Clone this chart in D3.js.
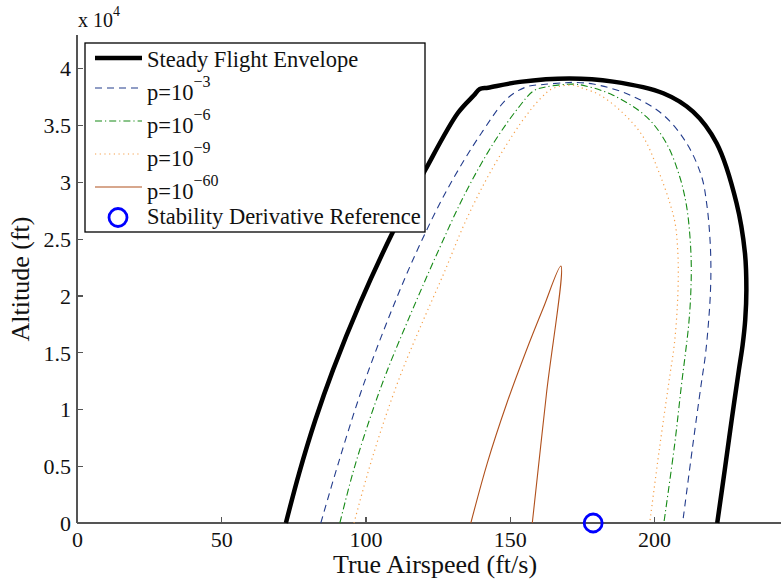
<!DOCTYPE html>
<html lang="en">
<head>
<meta charset="UTF-8">
<script src="https://cdn.jsdelivr.net/npm/d3@7"></script>
<style>
    body { margin: 0; background: #fff; }
    svg { display: block; font-family: "Liberation Serif", "Times New Roman", serif; }
    .axis path, .axis line { stroke: #555; stroke-width: 1.2px; shape-rendering: crispEdges; }
    .axis text { font-family: "Liberation Serif", serif; font-size: 22px; fill: #111; }
    .label { font-size: 26px; fill: #111; }
</style>
</head>
<body>
<svg width="782" height="582"></svg>
<script>
// ---- data (speed in ft/s, altitude in ft) ----
var envSpeed = [72.4, 77.0, 82.6, 88.7, 98.1, 109.3, 120.7, 132.0, 137.5, 139.6, 142.5, 153.5, 170.8, 185.8, 203.2, 213.5, 221.7, 228.6, 231.5, 232.0, 231.6, 230.7, 229.4, 226.9, 224.5, 221.9];
var envAlt   = [0, 4390, 9050, 13440, 19330, 25490, 31030, 36040, 37580, 38150, 38270, 38780, 39080, 38800, 37780, 36160, 33380, 28110, 23740, 20480, 17850, 15650, 13450, 9050, 4660, 0];

var p3Speed = [84.5, 90.6, 98.3, 107.3, 117.5, 128.6, 140.2, 149.3, 155.8, 161.6, 168.5, 172.0, 178.9, 191.6, 203.2, 211.3, 216.5, 218.3, 219.3, 219.7, 219.5, 218.8, 217.8, 216.3, 213.3, 209.9];
var p3Alt   = [0, 5270, 11430, 17580, 23740, 29450, 34290, 37360, 38340, 38550, 38690, 38730, 38590, 37630, 35870, 33380, 30440, 27960, 25320, 22680, 20040, 17410, 14770, 12130, 6590, 0];

var p6Speed = [91.1, 95.6, 101.0, 107.2, 115.8, 124.9, 134.6, 144.4, 152.9, 158.2, 162.8, 172.0, 176.6, 185.8, 197.4, 204.3, 208.9, 211.2, 212.4, 212.9, 212.7, 212.0, 210.8, 209.5, 207.2, 203.4];
var p6Alt   = [0, 4400, 8790, 13190, 18460, 23740, 29010, 33410, 36480, 37980, 38350, 38580, 38400, 37610, 35700, 33370, 30440, 27960, 25320, 22680, 20040, 17410, 14770, 12130, 7030, 0];

var p9Speed = [96.0, 100.8, 106.2, 112.4, 119.6, 127.2, 134.4, 143.1, 153.8, 160.8, 165.0, 172.0, 175.4, 181.2, 189.3, 196.2, 201.4, 205.5, 207.4, 208.2, 208.4, 208.0, 207.0, 205.5, 201.8, 198.5];
var p9Alt   = [0, 4400, 8790, 13190, 17580, 21980, 26370, 30770, 35160, 37360, 38210, 38490, 38210, 37630, 36020, 33960, 31030, 28110, 26200, 24000, 21800, 18730, 15650, 13010, 6420, 0];

var p60Speed = [136.5, 142.2, 149.0, 155.4, 161.6, 167.7, 162.7, 157.8];
var p60Alt   = [0, 5270, 10550, 14950, 18900, 22590, 11340, 0];

var refSpeed = [178.9];
var refAlt   = [0];

var xTicks = [0, 50, 100, 150, 200];
var yTicks = [0, 5000, 10000, 15000, 20000, 25000, 30000, 35000, 40000];

var legendLabels = ["Steady Flight Envelope", "p=10|\u22123", "p=10|\u22126", "p=10|\u22129", "p=10|\u221260", "Stability Derivative Reference"];

// ---- layout ----
var svg = d3.select("svg");
var plotL = 77, plotR = 781, plotT = 35, plotB = 523;

var x = d3.scaleLinear().domain([0, 244]).range([plotL, plotR]);
var y = d3.scaleLinear().domain([0, 42900]).range([plotB, plotT]);

var series = [
    {sp: envSpeed, al: envAlt, color: "#000", width: 4.5, dash: null},
    {sp: p3Speed, al: p3Alt, color: "#233c8c", width: 1.1, dash: "7,5"},
    {sp: p6Speed, al: p6Alt, color: "#168a16", width: 1.1, dash: "7,3,1.2,3"},
    {sp: p9Speed, al: p9Alt, color: "#f5a04a", width: 1.2, dash: "1.2,3.5"},
    {sp: p60Speed, al: p60Alt, color: "#b0501c", width: 1.1, dash: null}
];

var line = d3.line()
    .x(function(d){ return x(d[0]); })
    .y(function(d){ return y(d[1]); })
    .curve(d3.curveCatmullRom.alpha(0.5));

// axes
var xAxis = d3.axisBottom(x).tickValues(xTicks).tickSize(-6).tickPadding(8).tickFormat(d3.format("d"));
var yAxis = d3.axisLeft(y).tickValues(yTicks).tickSize(-6).tickPadding(6)
    .tickFormat(function(d){ return d3.format("")(d / 10000); });

var gx = svg.append("g").attr("class", "axis")
    .attr("transform", "translate(0," + plotB + ")")
    .call(xAxis);
gx.select(".domain").attr("d", "M" + plotL + ",0H" + plotR);
gx.selectAll("text").attr("dy", "0.72em");

var gy = svg.append("g").attr("class", "axis")
    .attr("transform", "translate(" + plotL + ",0)")
    .call(yAxis);
gy.select(".domain").attr("d", "M0," + plotB + "V" + plotT);
gy.selectAll("text").attr("dy", "0.35em");

// curves
series.forEach(function(s){
    svg.append("path")
        .datum(d3.zip(s.sp, s.al))
        .attr("d", line)
        .attr("fill", "none")
        .attr("stroke", s.color)
        .attr("stroke-width", s.width)
        .attr("stroke-dasharray", s.dash)
        .attr("stroke-linejoin", "round");
});

// reference point
svg.selectAll(".ref")
    .data(d3.zip(refSpeed, refAlt))
    .enter().append("circle")
    .attr("class", "ref")
    .attr("cx", function(d){ return x(d[0]); })
    .attr("cy", function(d){ return y(d[1]); })
    .attr("r", 9)
    .attr("fill", "none")
    .attr("stroke", "#0000ff")
    .attr("stroke-width", 2.8);

// exponent label
var ex = svg.append("text").attr("x", 78).attr("y", 27).style("font-size", "20px").attr("fill", "#111");
ex.append("tspan").text("x 10");
ex.append("tspan").attr("dy", -11).style("font-size", "14px").text("4");

// axis labels
svg.append("text").attr("class", "label")
    .attr("x", (plotL + plotR) / 2 + 6).attr("y", 573)
    .attr("text-anchor", "middle")
    .text("True Airspeed (ft/s)");
svg.append("text").attr("class", "label")
    .attr("transform", "translate(29," + (plotT + plotB) / 2 + ") rotate(-90)")
    .attr("text-anchor", "middle")
    .text("Altitude (ft)");

// legend
var lg = svg.append("g");
lg.append("rect")
    .attr("x", 85).attr("y", 43).attr("width", 340).attr("height", 189)
    .attr("fill", "#fff").attr("stroke", "#000").attr("stroke-width", 1.3);

var rowY = [58, 88, 121, 154, 187, 217.5];
var textOff = [8.5, 11.5, 11.5, 11.5, 11.5, 6.8];

legendLabels.forEach(function(lbl, i){
    if (i < series.length) {
        var s = series[i];
        lg.append("line")
            .attr("x1", 95).attr("x2", 142)
            .attr("y1", rowY[i]).attr("y2", rowY[i])
            .attr("stroke", s.color)
            .attr("stroke-width", s.width)
            .attr("stroke-dasharray", s.dash);
    } else {
        lg.append("circle")
            .attr("cx", 118).attr("cy", rowY[i]).attr("r", 9)
            .attr("fill", "none").attr("stroke", "#0000ff").attr("stroke-width", 2.8);
    }
    var t = lg.append("text")
        .attr("x", 147).attr("y", rowY[i] + textOff[i])
        .style("font-size", "22.5px").attr("fill", "#111");
    var parts = lbl.split("|");
    t.append("tspan").text(parts[0]);
    if (parts[1]) t.append("tspan").attr("dy", -13).style("font-size", "16px").text(parts[1]);
});
</script>
</body>
</html>
